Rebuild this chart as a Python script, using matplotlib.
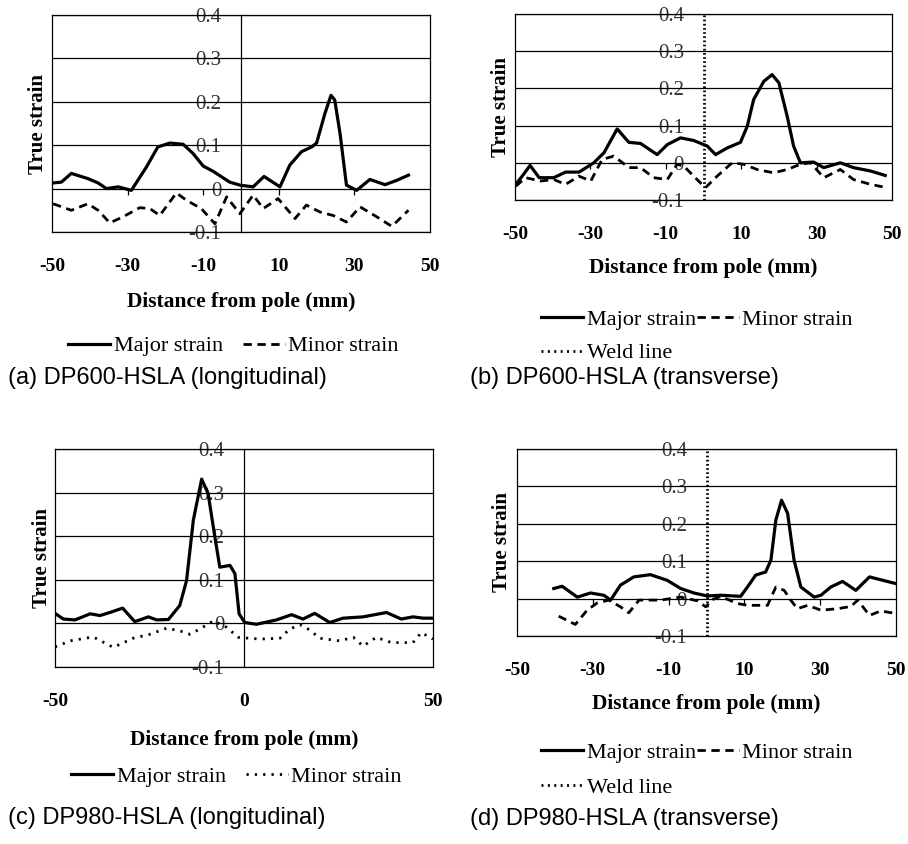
import numpy as np
import matplotlib
matplotlib.use('Agg')
import matplotlib.pyplot as plt
from matplotlib.lines import Line2D

plt.rcParams['font.family'] = 'serif'
plt.rcParams['font.serif'] = ['Liberation Serif', 'DejaVu Serif']

# (a) DP600-HSLA (longitudinal)
a_major_x = [-49.7, -47.5, -44.9, -40.5, -37.8, -35.6, -32.5, -29, -25, -22, -18.8, -15.3, -12.7, -10,
             -7.4, -3, -0.3, 3.2, 6.1, 10.3, 12.9, 16, 18.7, 20, 22.2, 23.8, 24.8, 26.2, 27.9, 30.6,
             34.1, 38.1, 41.2, 44.3]
a_major_y = [0.013, 0.015, 0.035, 0.023, 0.013, 0.0, 0.004, -0.004, 0.05, 0.096, 0.105, 0.102, 0.081, 0.052,
             0.04, 0.015, 0.008, 0.004, 0.028, 0.004, 0.054, 0.085, 0.096, 0.105, 0.173, 0.215, 0.204, 0.127,
             0.008, -0.004, 0.021, 0.009, 0.019, 0.031]
a_minor_x = [-49.7, -44.9, -40.5, -37.8, -34.7, -31.2, -26.8, -24.1, -21.5, -17.1, -14.4, -10.5, -6.9,
             -3.8, -0.3, 3.2, 5.9, 9.8, 14.3, 17.3, 20.9, 24.4, 27.9, 31.5, 35.9, 39.9, 44.3]
a_minor_y = [-0.035, -0.05, -0.035, -0.05, -0.079, -0.065, -0.044, -0.046, -0.062, -0.01, -0.027, -0.046,
             -0.081, -0.019, -0.058, -0.015, -0.046, -0.023, -0.069, -0.038, -0.054, -0.062, -0.077, -0.042,
             -0.065, -0.087, -0.05]

# (b) DP600-HSLA (transverse)
b_major_x = [-49.8, -48.1, -46, -43.6, -39.7, -36.6, -33, -29.1, -26.4, -22.9, -19.8, -16.7, -12.3, -9.6,
             -6.1, -2.6, 1, 3.2, 6.3, 9.8, 11.6, 13.3, 16, 18.2, 20, 22.2, 23.9, 25.7, 29.2, 31.9, 36.3,
             39.8, 44.3, 48.2]
b_major_y = [-0.058, -0.036, -0.007, -0.04, -0.04, -0.025, -0.025, 0.0, 0.027, 0.091, 0.055, 0.052, 0.022,
             0.049, 0.067, 0.06, 0.045, 0.022, 0.04, 0.055, 0.098, 0.17, 0.219, 0.237, 0.215, 0.125, 0.045,
             0.0, 0.002, -0.013, 0.0, -0.013, -0.022, -0.034]
b_minor_x = [-49.8, -47.2, -43.2, -39.7, -36.6, -33, -29.9, -26.9, -23.8, -19.8, -16.7, -13.2, -9.6, -7,
             -5.2, -2.6, 0.5, 3.6, 7.6, 10.7, 14.2, 18.6, 22.2, 25.7, 28.4, 31.9, 36.3, 39.8, 44.3, 48.7]
b_minor_y = [-0.063, -0.04, -0.049, -0.045, -0.058, -0.036, -0.049, 0.009, 0.018, -0.013, -0.013, -0.04,
             -0.045, -0.004, -0.009, -0.036, -0.067, -0.036, 0.0, -0.004, -0.018, -0.027, -0.018, -0.004,
             0.0, -0.04, -0.018, -0.045, -0.058, -0.067]

# (c) DP980-HSLA (longitudinal)
c_major_x = [-50, -47.8, -44.7, -40.7, -38.1, -35.5, -32.1, -28.9, -25.3, -23.1, -20, -17, -15.2, -13.4,
             -11.2, -9.5, -7.7, -6.4, -3.7, -2.4, -1.3, 0.2, 3.3, 8.6, 12.6, 15.6, 18.7, 22.7, 26.2, 31.5,
             37.7, 41.6, 44.7, 47.4, 50]
c_major_y = [0.023, 0.01, 0.008, 0.022, 0.018, 0.025, 0.035, 0.004, 0.015, 0.008, 0.009, 0.041, 0.098, 0.237,
             0.331, 0.298, 0.198, 0.129, 0.133, 0.114, 0.022, 0.002, -0.002, 0.008, 0.02, 0.01, 0.023, 0.002,
             0.012, 0.015, 0.025, 0.01, 0.015, 0.012, 0.012]
c_minor_x = [-50, -46, -39.9, -34.6, -29.3, -24.9, -20.5, -17, -14.3, -11.7, -8.1, -4.6, -1.5, 4.2, 9.5,
             12.1, 14.8, 17.4, 20, 25.3, 28.9, 31.5, 35, 39, 44.7, 46.9, 50]
c_minor_y = [-0.054, -0.04, -0.031, -0.055, -0.034, -0.025, -0.011, -0.017, -0.025, -0.013, 0.006, -0.009,
             -0.032, -0.036, -0.034, -0.013, -0.003, -0.015, -0.034, -0.04, -0.032, -0.052, -0.032, -0.044,
             -0.044, -0.021, -0.036]

# (d) DP980-HSLA (transverse)
d_major_x = [-40.3, -38.1, -34.1, -30.6, -27.1, -25.3, -22.7, -19.2, -14.8, -10.4, -6.8, -3.3, 0.2, 3.7,
             9, 10.8, 13, 15.6, 17, 18.3, 19.8, 21.4, 23.1, 24.9, 28.4, 30.2, 32.8, 35.9, 39.4, 43, 46.5, 50]
d_major_y = [0.027, 0.033, 0.004, 0.015, 0.009, -0.004, 0.036, 0.058, 0.064, 0.049, 0.027, 0.015, 0.007,
             0.009, 0.006, 0.031, 0.063, 0.071, 0.103, 0.21, 0.263, 0.228, 0.103, 0.031, 0.004, 0.009, 0.031,
             0.046, 0.022, 0.058, 0.049, 0.04]
d_minor_x = [-39, -34.6, -31.5, -28.9, -25.8, -22.7, -20.5, -17.8, -12.1, -6.8, -2.4, -0.2, 1.5, 3.7, 8.1,
             10.8, 16.1, 18.3, 20.5, 22.2, 24, 26.7, 30.2, 34.6, 38.1, 39.9, 43, 46, 50]
d_minor_y = [-0.047, -0.069, -0.031, -0.012, -0.004, -0.022, -0.038, -0.004, -0.004, 0.004, -0.006, -0.022,
             -0.003, 0.006, -0.013, -0.018, -0.018, 0.031, 0.022, -0.004, -0.027, -0.018, -0.031, -0.027,
             -0.021, -0.004, -0.045, -0.033, -0.04]

weld_x = 0
y_ticks = [-0.1, 0, 0.1, 0.2, 0.3, 0.4]
y_labels = ['-0.1', '0', '0.1', '0.2', '0.3', '0.4']

W, H = 908, 844
fig = plt.figure(figsize=(W / 100, H / 100), dpi=100)


def fx(px):
    return px / W


def fy(py):
    return 1 - py / H


def make_panel(box, xticks, small_ticks, weld):
    l, t, r, b = box
    ax = fig.add_axes([fx(l), fy(b), (r - l) / W, (b - t) / H])
    ax.set_xlim(-50, 50)
    ax.set_ylim(-0.1, 0.4)
    for s in ax.spines.values():
        s.set_linewidth(0.9)
    ax.set_yticks(y_ticks)
    ax.set_yticklabels([])
    ax.tick_params(axis='y', length=0)
    ax.yaxis.grid(True, color='black', lw=0.9)
    ax.set_axisbelow(True)
    ax.set_xticks(xticks)
    ax.set_xticklabels([str(v) for v in xticks], fontsize=14, fontweight='bold')
    ax.tick_params(axis='x', length=0, pad=19)

    # y axis crossing at x = 0, labels on its left
    sec = ax.secondary_yaxis(0.5)
    sec.set_yticks(y_ticks)
    sec.set_yticklabels(y_labels, fontsize=15, color='#333333')
    sec.tick_params(axis='y', length=0, pad=14, left=True, labelleft=True, right=False, labelright=False)
    for s in sec.spines.values():
        s.set_linewidth(0.9)
        if weld:
            s.set_visible(False)

    if small_ticks:
        secx = ax.secondary_xaxis(0.2)
        secx.set_xticks(small_ticks)
        secx.set_xticklabels([])
        secx.tick_params(axis='x', length=4, width=0.9, direction='out')
        for s in secx.spines.values():
            s.set_visible(False)
    return ax


LW = 2.3
boxes = {
    'a': (52, 15, 430, 232),
    'b': (515, 14, 892, 200),
    'c': (55, 449, 433, 667),
    'd': (517, 449, 896, 636),
}
xt6 = [-50, -30, -10, 10, 30, 50]
st = [-30, -10, 10, 30]
weld_handle = Line2D([], [], color='black', lw=2.0, ls=(0, (0.7, 1.6)), label='Weld line')

ax_a = make_panel(boxes['a'], xt6, st, False)
ax_a.plot(a_major_x, a_major_y, color='black', lw=LW, solid_joinstyle='round', label='Major strain')
ax_a.plot(a_minor_x, a_minor_y, color='black', lw=2.0, ls=(0, (3, 2)), label='Minor strain')

ax_b = make_panel(boxes['b'], xt6, st, True)
l1, = ax_b.plot(b_major_x, b_major_y, color='black', lw=LW, solid_joinstyle='round', label='Major strain')
ax_b.axvline(weld_x, color='black', lw=2.0, ls=(0, (0.6, 0.9)))
l2, = ax_b.plot(b_minor_x, b_minor_y, color='black', lw=2.0, ls=(0, (3, 2)), label='Minor strain')
b_handles = [l1, weld_handle, l2]

ax_c = make_panel(boxes['c'], [-50, 0, 50], None, False)
ax_c.plot(c_major_x, c_major_y, color='black', lw=LW, solid_joinstyle='round', label='Major strain')
ax_c.plot(c_minor_x, c_minor_y, color='black', lw=2.0, ls=(0, (0.8, 2.2)), label='Minor strain')

ax_d = make_panel(boxes['d'], xt6, st, True)
m1, = ax_d.plot(d_major_x, d_major_y, color='black', lw=LW, solid_joinstyle='round', label='Major strain')
ax_d.axvline(weld_x, color='black', lw=2.0, ls=(0, (0.6, 0.9)))
m2, = ax_d.plot(d_minor_x, d_minor_y, color='black', lw=2.0, ls=(0, (3, 2)), label='Minor strain')
d_handles = [m1, weld_handle, m2]

# axis titles
for key, ax, xl_y, yl_x in [('a', ax_a, 302, 38), ('b', ax_b, 268, 501),
                            ('c', ax_c, 740, 42), ('d', ax_d, 704, 502)]:
    l, t, r, b = boxes[key]
    fig.text(fx((l + r) / 2), fy(xl_y), 'Distance from pole (mm)', ha='center', va='center',
             fontsize=15.5, fontweight='bold')
    fig.text(fx(yl_x), fy((t + b) / 2), 'True strain', ha='center', va='center', rotation=90,
             fontsize=15, fontweight='bold')

# legends
leg_kw = dict(frameon=False, fontsize=16, handlelength=1.9, handletextpad=0.15,
              borderpad=0, borderaxespad=0, bbox_transform=fig.transFigure)
h, lab = ax_a.get_legend_handles_labels()
ax_a.legend(h, lab, loc='center left', bbox_to_anchor=(fx(68), fy(346)), ncol=2, columnspacing=0.9, **leg_kw)
h, lab = ax_c.get_legend_handles_labels()
ax_c.legend(h, lab, loc='center left', bbox_to_anchor=(fx(71), fy(777)), ncol=2, columnspacing=0.9, **leg_kw)
ax_b.legend(b_handles, [x.get_label() for x in b_handles], loc='upper left', bbox_to_anchor=(fx(541), fy(309)),
            ncol=2, columnspacing=0.05, labelspacing=0.6, **leg_kw)
ax_d.legend(d_handles, [x.get_label() for x in d_handles], loc='upper left', bbox_to_anchor=(fx(541), fy(742)),
            ncol=2, columnspacing=0.05, labelspacing=0.65, **leg_kw)

# captions
cap_font = dict(fontsize=17, family=['Liberation Sans', 'DejaVu Sans'], va='center', ha='left')
fig.text(fx(8), fy(378), '(a) DP600-HSLA (longitudinal)', **cap_font)
fig.text(fx(470), fy(378), '(b) DP600-HSLA (transverse)', **cap_font)
fig.text(fx(8), fy(818), '(c) DP980-HSLA (longitudinal)', **cap_font)
fig.text(fx(470), fy(819), '(d) DP980-HSLA (transverse)', **cap_font)

fig.savefig('out.png', dpi=100)
